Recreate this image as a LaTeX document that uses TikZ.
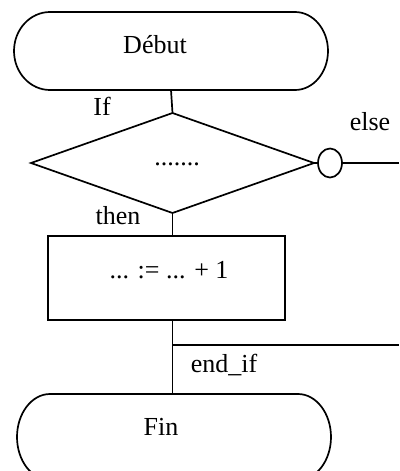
\documentclass[tikz,border=0pt]{standalone}
\usepackage{fontspec}
\setmainfont{Liberation Serif}
\usetikzlibrary{shapes.geometric}
\begin{document}
\begin{tikzpicture}[x=1pt,y=-1pt,line width=1.7pt,
  lbl/.style={anchor=base,inner sep=0pt,font=\fontsize{26}{30}\selectfont},
  frame/.style={inner sep=0pt,outer sep=0pt}]
\useasboundingbox (0,0) rectangle (399,471);
\clip (0,0) rectangle (399,471);
% Debut terminal
\node[frame,minimum width=314pt,minimum height=78pt] (debut) at (171,51) {};
\draw (50,12) .. controls (30.1,12) and (14,29.5) .. (14,51)
  .. controls (14,72.5) and (30.1,90) .. (50,90) -- (295,90)
  .. controls (313.2,90) and (328,72.5) .. (328,51)
  .. controls (328,29.5) and (313.2,12) .. (295,12) -- cycle;
% decision
\node[frame,draw,diamond,minimum width=283pt,minimum height=100pt] (cond) at (172.5,163) {};
\node[frame,draw,ellipse,minimum width=24pt,minimum height=29pt] (circ) at (330,163) {};
% action
\node[frame,draw,minimum width=237pt,minimum height=84pt] (act) at (166.5,278) {};
% Fin terminal
\node[frame,minimum width=314pt,minimum height=86pt] (fin) at (174,437) {};
\draw (50,394) .. controls (31.8,394) and (17,413.3) .. (17,437)
  .. controls (17,460.7) and (31.8,480) .. (50,480) -- (298,480)
  .. controls (316.2,480) and (331,460.7) .. (331,437)
  .. controls (331,413.3) and (316.2,394) .. (298,394) -- cycle;
% connectors
\coordinate (elseout) at (399,163);
\coordinate (endifout) at (399,345);
\draw (debut.south) -- (cond.north);
\draw (cond.east) -- (circ.west);
\draw (circ.east) -- (elseout);
\draw (cond.south) -- (cond.south |- act.north);
\draw (cond.south |- act.south) -- (cond.south |- fin.north);
\draw (endifout -| cond.south) -- (endifout);
% texts
\node[lbl] (tdebut) at (155,53) {Début};
\node[lbl] (tif) at (102,115) {If};
\node[lbl] (telse) at (370,130) {else};
\node[lbl] (tdots) at (177,165) {.......};
\node[lbl] (tthen) at (118,224) {then};
\node[lbl] (tact) at (169,278) {... := ... + 1};
\node[lbl] (tendif) at (224,372) {end\_if};
\node[lbl] (tfin) at (161,435) {Fin};
\end{tikzpicture}
\end{document}
